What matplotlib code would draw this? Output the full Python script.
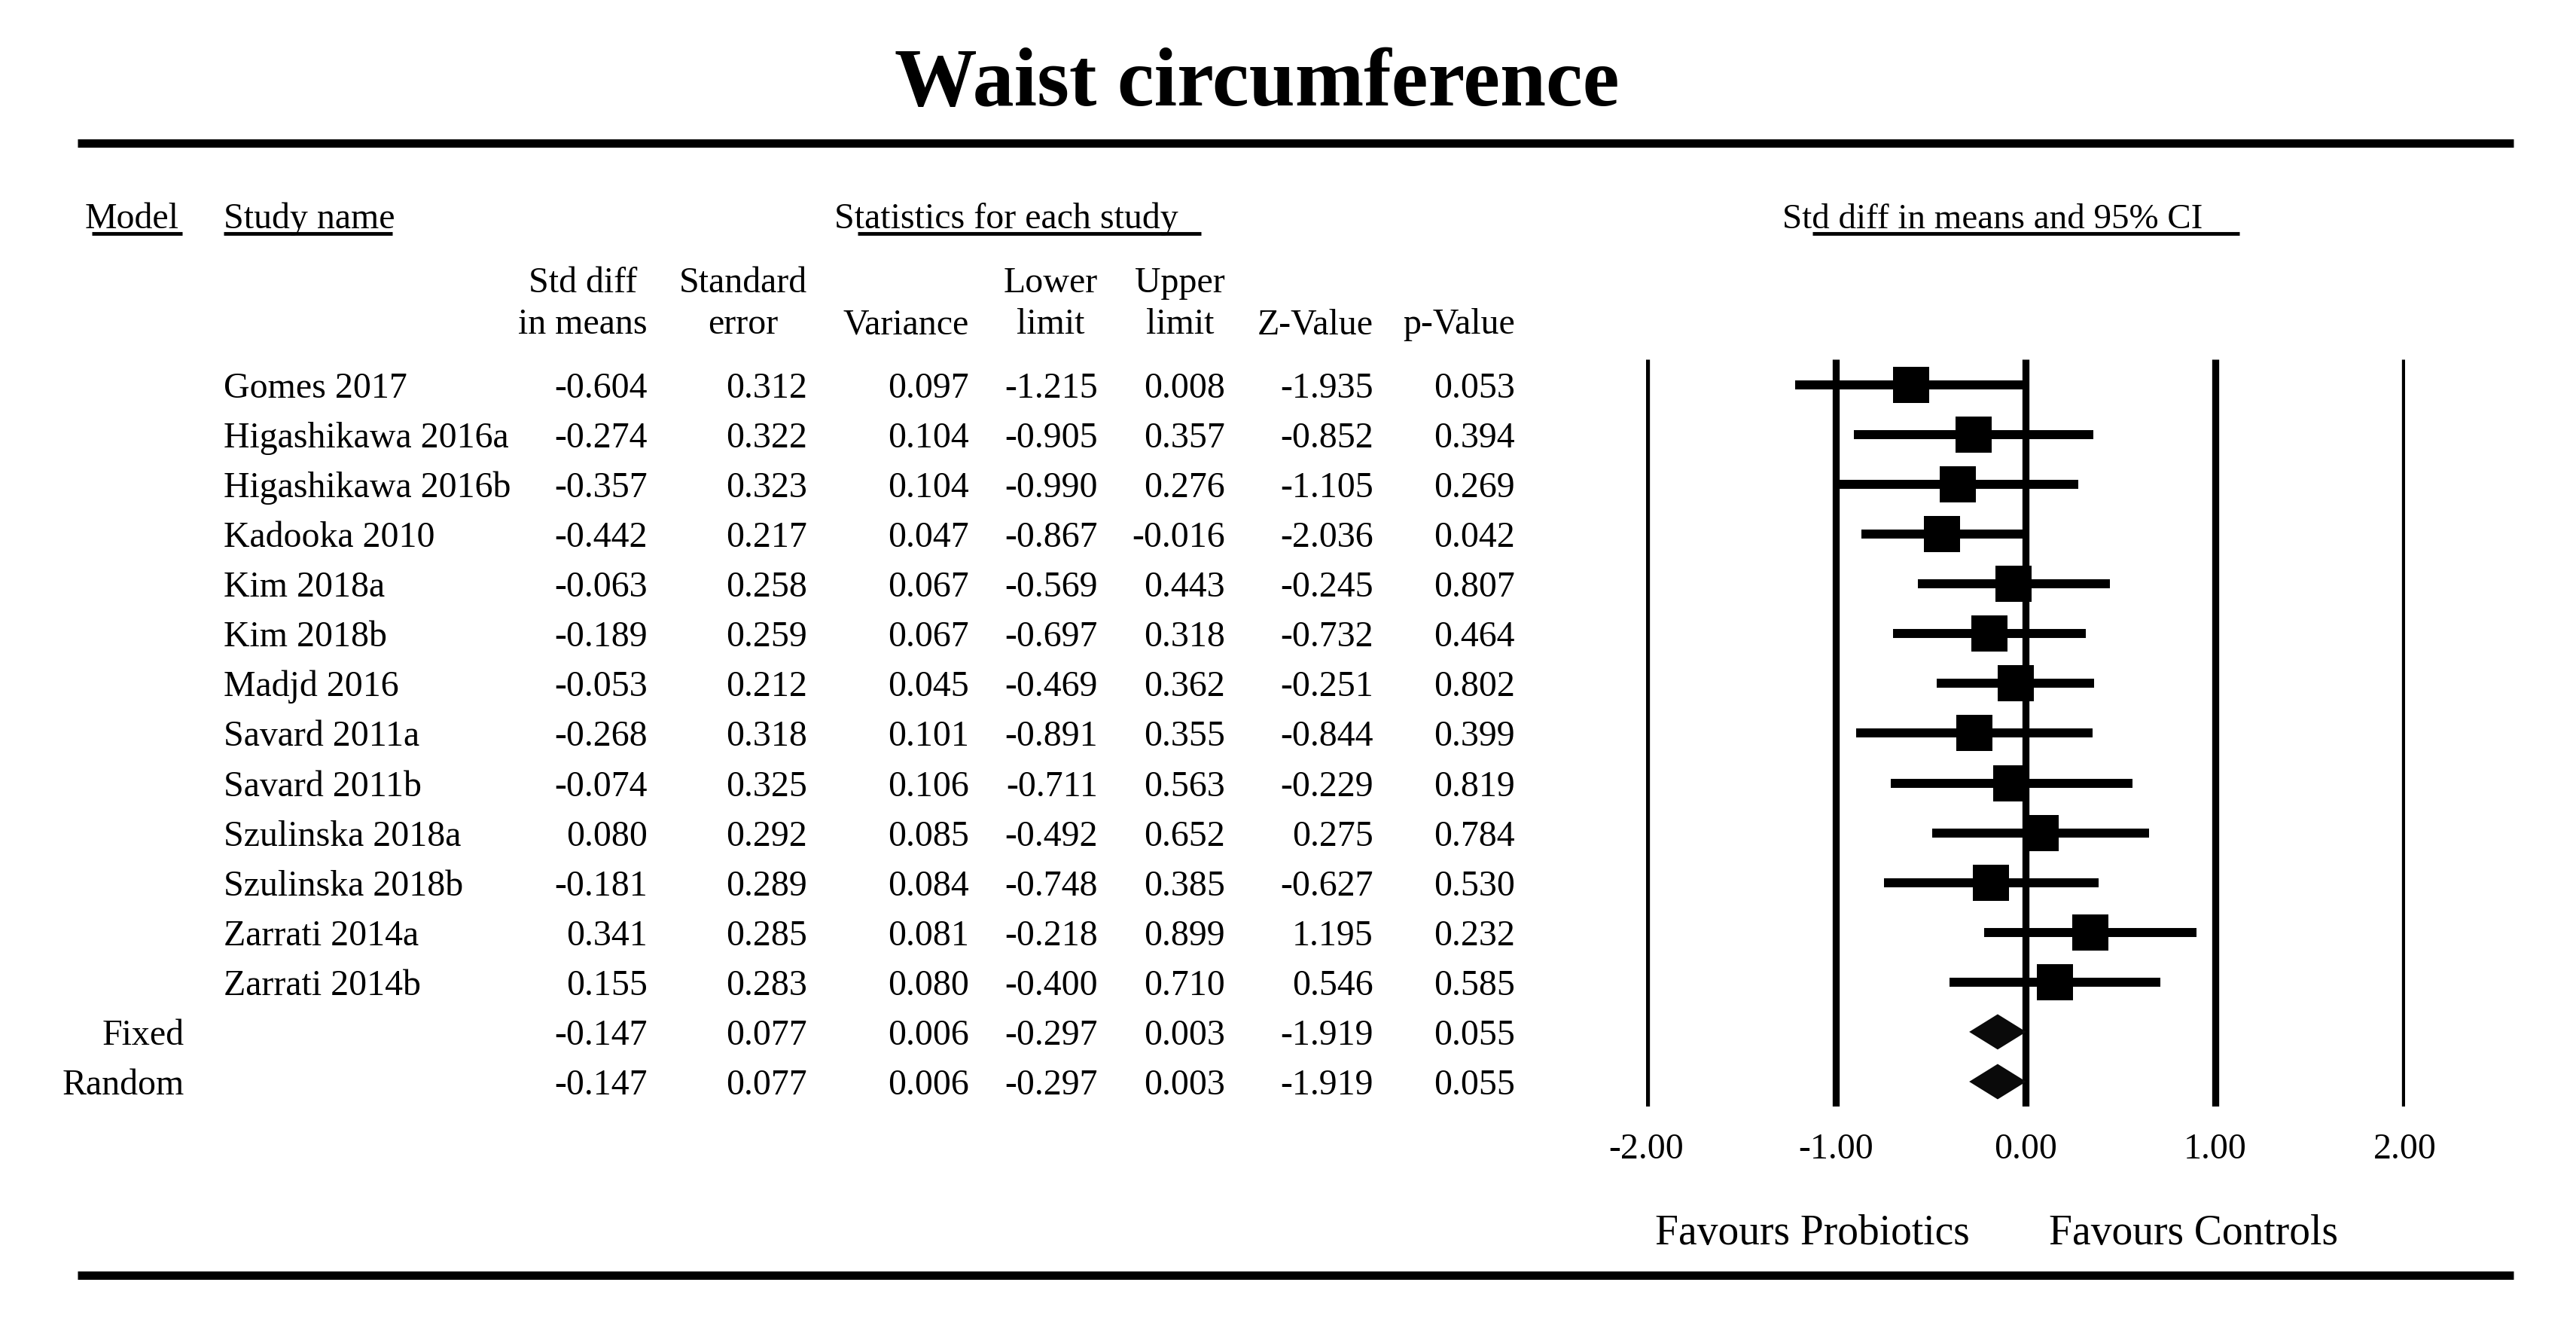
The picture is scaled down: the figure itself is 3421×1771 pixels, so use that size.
import matplotlib
matplotlib.use("Agg")
import matplotlib.pyplot as plt
from matplotlib.transforms import blended_transform_factory

# ---------------- data ----------------
studies = ["Gomes 2017", "Higashikawa 2016a", "Higashikawa 2016b", "Kadooka 2010",
           "Kim 2018a", "Kim 2018b", "Madjd 2016", "Savard 2011a", "Savard 2011b",
           "Szulinska 2018a", "Szulinska 2018b", "Zarrati 2014a", "Zarrati 2014b"]
smd = [-0.604, -0.274, -0.357, -0.442, -0.063, -0.189, -0.053, -0.268, -0.074,
       0.080, -0.181, 0.341, 0.155]
se = [0.312, 0.322, 0.323, 0.217, 0.258, 0.259, 0.212, 0.318, 0.325,
      0.292, 0.289, 0.285, 0.283]
variance = [0.097, 0.104, 0.104, 0.047, 0.067, 0.067, 0.045, 0.101, 0.106,
            0.085, 0.084, 0.081, 0.080]
lower = [-1.215, -0.905, -0.990, -0.867, -0.569, -0.697, -0.469, -0.891, -0.711,
         -0.492, -0.748, -0.218, -0.400]
upper = [0.008, 0.357, 0.276, -0.016, 0.443, 0.318, 0.362, 0.355, 0.563,
         0.652, 0.385, 0.899, 0.710]
zval = [-1.935, -0.852, -1.105, -2.036, -0.245, -0.732, -0.251, -0.844, -0.229,
        0.275, -0.627, 1.195, 0.546]
pval = [0.053, 0.394, 0.269, 0.042, 0.807, 0.464, 0.802, 0.399, 0.819,
        0.784, 0.530, 0.232, 0.585]

models = ["Fixed", "Random"]
m_smd = [-0.147, -0.147]
m_se = [0.077, 0.077]
m_var = [0.006, 0.006]
m_lower = [-0.297, -0.297]
m_upper = [0.003, 0.003]
m_z = [-1.919, -1.919]
m_p = [0.055, 0.055]

col_headers = [("Std diff", "in means"), ("Standard", "error"), ("", "Variance"),
               ("Lower", "limit"), ("Upper", "limit"), ("", "Z-Value"), ("", "p-Value")]
xticks = [-2, -1, 0, 1, 2]
xtick_labels = ["-2.00", "-1.00", "0.00", "1.00", "2.00"]
title = "Waist circumference"
favours_left = "Favours Probiotics"
favours_right = "Favours Controls"

# ---------------- layout ----------------
W, H, DPI = 3421, 1771, 100
plt.rcParams['font.family'] = ['Liberation Serif', 'DejaVu Serif']
FS = 34.5

fig = plt.figure(figsize=(W / DPI, H / DPI), dpi=DPI)
bg = fig.add_axes([0, 0, 1, 1])
bg.set_xlim(0, W)
bg.set_ylim(H, 0)
bg.axis('off')

ROW0 = 511.0
ROWH = 66.07
BASE_OFF = 17


def row_base(i):
    return ROW0 + ROWH * i + BASE_OFF


# title and rules
bg.text(1669, 140, title, ha='center', va='baseline', fontsize=79, fontweight='bold')
bg.plot([103, 3338], [190, 190], color='black', lw=8, solid_capstyle='butt')
bg.plot([103, 3338], [1693, 1693], color='black', lw=8, solid_capstyle='butt')

# top header row with underlines
HB = 303
UL = 310
hdr = [("Model", 113, FS, (122, 242)),
       ("Study name", 297, FS, (297, 521)),
       ("Statistics for each study", 1108, FS, (1139, 1595)),
       ("Std diff in means and 95% CI", 2367, 33.8, (2407, 2974))]
for txt, x, fs, (u0, u1) in hdr:
    bg.text(x, HB, txt, ha='left', va='baseline', fontsize=fs)
    bg.plot([u0, u1], [UL, UL], color='black', lw=3.5, solid_capstyle='butt')

# column headers
col_right = [860, 1072, 1287, 1458, 1627, 1824, 2012]
renderer = fig.canvas.get_renderer()
for (l1, l2), xr in zip(col_headers, col_right):
    t1 = bg.text(0, 388, l1, ha='center', va='baseline', fontsize=FS)
    t2 = bg.text(0, 443, l2, ha='center', va='baseline', fontsize=FS)
    w = max(t1.get_window_extent(renderer).width, t2.get_window_extent(renderer).width)
    t1.set_x(xr - w / 2)
    t2.set_x(xr - w / 2)

# study rows
for i, name in enumerate(studies):
    y = row_base(i)
    bg.text(297, y, name, ha='left', va='baseline', fontsize=FS)
    vals = [smd[i], se[i], variance[i], lower[i], upper[i], zval[i], pval[i]]
    for v, xr in zip(vals, col_right):
        bg.text(xr, y, f"{v:.3f}", ha='right', va='baseline', fontsize=FS)

n = len(studies)
for j, mname in enumerate(models):
    y = row_base(n + j)
    bg.text(245, y, mname, ha='right', va='baseline', fontsize=FS)
    vals = [m_smd[j], m_se[j], m_var[j], m_lower[j], m_upper[j], m_z[j], m_p[j]]
    for v, xr in zip(vals, col_right):
        bg.text(xr, y, f"{v:.3f}", ha='right', va='baseline', fontsize=FS)

# ---------------- forest plot ----------------
FX0, FX1, FY0, FY1 = 2186, 3194, 477, 1469
fax = fig.add_axes([FX0 / W, 1 - FY1 / H, (FX1 - FX0) / W, (FY1 - FY0) / H])
fax.set_xlim(-2, 2)
fax.set_ylim((FY1 - ROW0) / ROWH, (FY0 - ROW0) / ROWH)
fax.axis('off')

for t in xticks:
    fax.axvline(t, color='black', lw=6.7, zorder=1, solid_capstyle='butt')

for i in range(n):
    fax.plot([lower[i], upper[i]], [i, i], color='black', lw=8.6, solid_capstyle='butt', zorder=2)
    fax.plot([smd[i]], [i], marker='s', color='black', markersize=34, zorder=3,
             markeredgewidth=0, clip_on=False)

DH = 0.355
for j in range(len(models)):
    y = n + j
    fax.fill([m_lower[j], m_smd[j], m_upper[j], m_smd[j]],
             [y, y - DH, y, y + DH], color='#0a0a0a', zorder=3, lw=0)

tr = blended_transform_factory(fax.transData, bg.transData)
for t, lab in zip(xticks, xtick_labels):
    bg.text(t, 1538, lab, transform=tr, ha='center', va='baseline', fontsize=FS)

bg.text(2407, 1652, favours_left, ha='center', va='baseline', fontsize=40)
bg.text(2913, 1652, favours_right, ha='center', va='baseline', fontsize=40)

fig.savefig("out.png", dpi=DPI, facecolor='white')
